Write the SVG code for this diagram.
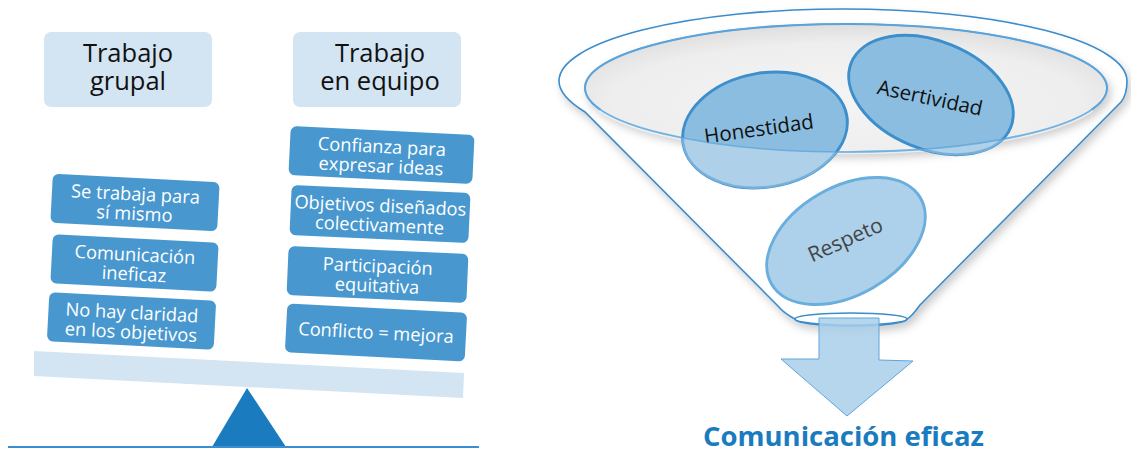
<svg xmlns="http://www.w3.org/2000/svg" width="1131" height="453" viewBox="0 0 1131 453">
<defs>
<style>
.hdr{fill:#d3e5f2}
.hdrt{font-family:"Open Sans","Noto Sans",sans-serif;font-size:25.5px;fill:#111;text-anchor:middle}
.box{fill:#4898cf}
.boxt{font-family:"Open Sans","Noto Sans",sans-serif;font-size:18.3px;fill:#fff;text-anchor:middle}
.ell{fill:#8bbde0;stroke:#3d8fcc;stroke-width:3}
.ellt{font-family:"Open Sans","Noto Sans",sans-serif;font-size:20.5px;fill:#111;text-anchor:middle}
.fun{stroke:#3b8ccc;stroke-width:1.6}
</style>
<radialGradient id="liq" cx="0.5" cy="0.6" r="0.6">
<stop offset="0" stop-color="#f4f4f4"/><stop offset="0.75" stop-color="#eeeeee"/><stop offset="1" stop-color="#dedede"/>
</radialGradient>
<filter id="sh" x="-10%" y="-10%" width="120%" height="130%">
<feDropShadow dx="3" dy="5" stdDeviation="4" flood-color="#000" flood-opacity="0.2"/>
</filter>
<mask id="outIn">
<rect width="1131" height="453" fill="#fff"/>
<ellipse cx="846" cy="88" rx="261" ry="64" fill="#000"/>
</mask>
</defs>

<!-- Left: balance -->
<g id="beam"><polygon points="34,351 464,373 463,398 34,376" fill="#d3e5f2"/></g>
<g id="fulcrum"><polygon points="247,388 212,447 286,447" fill="#1a7bbf"/></g>
<g id="ground"><line x1="8" y1="447" x2="479" y2="447" stroke="#3a8fd0" stroke-width="2"/></g>

<g id="hdr-grupal">
<rect class="hdr" x="44" y="32" width="168" height="75" rx="7"/>
<text class="hdrt" x="128" y="62">Trabajo</text>
<text class="hdrt" x="128" y="90">grupal</text>
</g>
<g id="hdr-equipo">
<rect class="hdr" x="293" y="32" width="168" height="75" rx="7"/>
<text class="hdrt" x="380" y="62">Trabajo</text>
<text class="hdrt" x="380" y="90">en equipo</text>
</g>

<g id="l1" transform="translate(135,202.5) rotate(3)">
<rect class="box" x="-83.5" y="-24.5" width="167" height="49" rx="6"/>
<text class="boxt" x="0" y="-2">Se trabaja para</text>
<text class="boxt" x="0" y="17.5">sí mismo</text>
</g>
<g id="l2" transform="translate(134.5,263) rotate(3)">
<rect class="box" x="-83" y="-24.5" width="166" height="49" rx="6"/>
<text class="boxt" x="0" y="-2">Comunicación</text>
<text class="boxt" x="0" y="17.5">ineficaz</text>
</g>
<g id="l3" transform="translate(131.5,321) rotate(3)">
<rect class="box" x="-83.5" y="-24.5" width="167" height="49" rx="6"/>
<text class="boxt" x="0" y="-2">No hay claridad</text>
<text class="boxt" x="0" y="17.5">en los objetivos</text>
</g>

<g id="r1" transform="translate(381.5,155) rotate(2.8)">
<rect class="box" x="-92" y="-24.5" width="184" height="49" rx="6"/>
<text class="boxt" x="0" y="-2">Confianza para</text>
<text class="boxt" x="0" y="17.5">expresar ideas</text>
</g>
<g id="r2" transform="translate(380,214) rotate(2.6)">
<rect class="box" x="-89.5" y="-25" width="179" height="50" rx="6"/>
<text class="boxt" x="0" y="-2">Objetivos diseñados</text>
<text class="boxt" x="0" y="17.5">colectivamente</text>
</g>
<g id="r3" transform="translate(377.5,274.5) rotate(2.5)">
<rect class="box" x="-90" y="-24.5" width="180" height="49" rx="6"/>
<text class="boxt" x="0" y="-2">Participación</text>
<text class="boxt" x="0" y="17.5">equitativa</text>
</g>
<g id="r4" transform="translate(376,332.5) rotate(3)">
<rect class="box" x="-90" y="-24.5" width="180" height="49" rx="6"/>
<text class="boxt" x="0" y="6.5">Conflicto = mejora</text>
</g>

<!-- Right: funnel -->
<g id="funnel">
<path class="fun" filter="url(#sh)" fill="#fff" d="M777,305 L585,112 C572,104 559,94 559,81 A284 72 0 0 1 1127,81 C1127,90 1126,96 1121,102 L920,305 C915,312 911,317 907,319 A56 7 0 0 1 795,319 C789,316 782,311 777,305 Z"/>
<ellipse cx="846" cy="88" rx="261" ry="64" fill="url(#liq)" filter="url(#sh)" stroke="#5ba3d9" stroke-width="2"/>
<path d="M600,110 A261 64 0 0 0 1092,110" fill="none" stroke="#fff" stroke-width="4" opacity="0.55"/>
<ellipse cx="851" cy="319" rx="56" ry="6" fill="none" class="fun"/>
</g>

<g id="honestidad">
<ellipse class="ell" cx="765" cy="130" rx="83" ry="57" transform="rotate(-10 765 130)"/>
<text class="ellt" x="759" y="136" transform="rotate(-8 759 130)">Honestidad</text>
</g>
<g id="asertividad">
<ellipse class="ell" cx="931" cy="95" rx="86" ry="54" transform="rotate(22 931 95)"/>
<text class="ellt" x="930" y="105" transform="rotate(12 930 98)">Asertividad</text>
</g>
<g id="overlay" mask="url(#outIn)">
<ellipse cx="765" cy="130" rx="84" ry="58" transform="rotate(-10 765 130)" fill="#fff" opacity="0.3"/>
<ellipse cx="931" cy="95" rx="87" ry="55" transform="rotate(22 931 95)" fill="#fff" opacity="0.3"/>
</g>
<g id="rim"><ellipse cx="846" cy="88" rx="261" ry="64" fill="none" stroke="#5ba3d9" stroke-width="1.6" opacity="0.75"/></g>

<g id="respeto">
<ellipse cx="846" cy="241" rx="86" ry="54" transform="rotate(-30 846 241)" fill="#add1eb" stroke="#6aaede" stroke-width="3"/>
<text class="ellt" x="845" y="247" transform="rotate(-24 845 239)" style="fill:#444;font-size:21px">Respeto</text>
</g>

<g id="arrow">
<polygon points="819,318 879,318 879,360 913,361 847,416 781,359 819,359" fill="#a9cfeb" fill-opacity="0.85" stroke="#5fa5da" stroke-width="1"/>
</g>
<g id="label">
<text x="843.5" y="446" font-family="Open Sans, Noto Sans, sans-serif" font-weight="bold" font-size="27.5" fill="#1a7bbf" text-anchor="middle">Comunicación eficaz</text>
</g>
</svg>
